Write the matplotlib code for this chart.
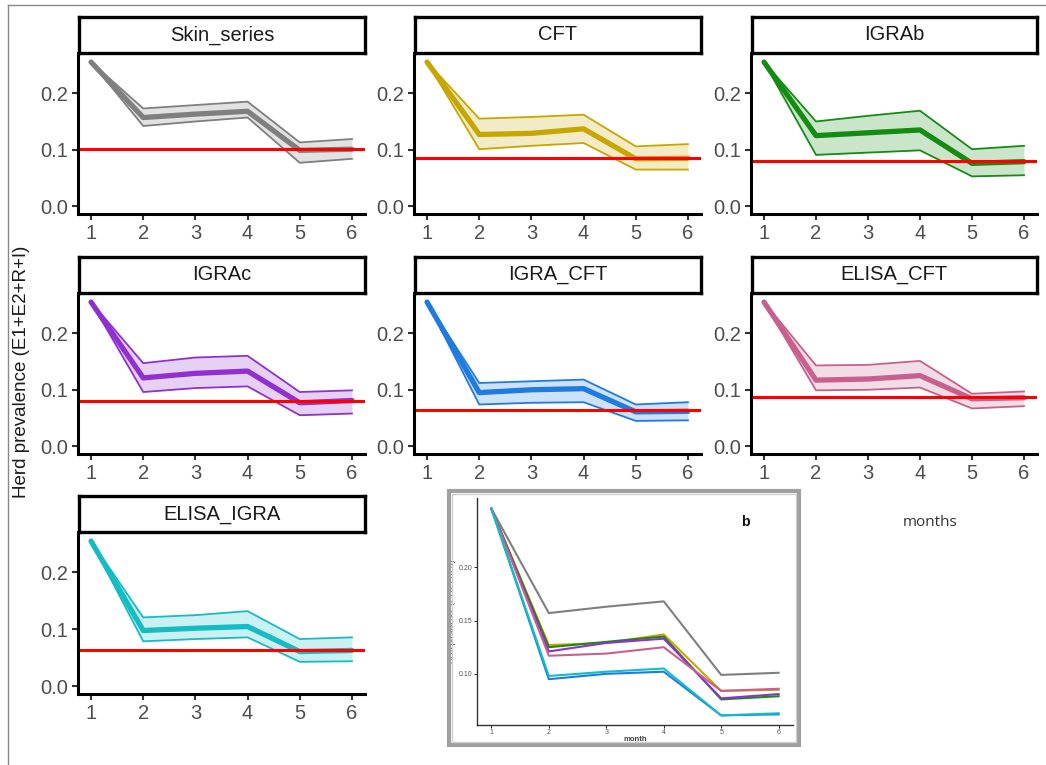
import matplotlib
matplotlib.use("Agg")
import matplotlib.pyplot as plt
from matplotlib.patches import Rectangle

plt.rcParams['font.family'] = ['Liberation Sans', 'DejaVu Sans']

months = [1, 2, 3, 4, 5, 6]

names = ["Skin_series", "CFT", "IGRAb", "IGRAc", "IGRA_CFT", "ELISA_CFT", "ELISA_IGRA"]
colors = ["#7f7f7f", "#c8a600", "#148c14", "#9030d0", "#1e7be0", "#c8608e", "#14bcc4"]

skin_med = [0.255, 0.157, 0.163, 0.168, 0.099, 0.101]
skin_lo = [0.255, 0.142, 0.150, 0.157, 0.077, 0.084]
skin_hi = [0.255, 0.173, 0.179, 0.185, 0.113, 0.119]

cft_med = [0.255, 0.127, 0.129, 0.137, 0.084, 0.085]
cft_lo = [0.255, 0.101, 0.107, 0.112, 0.065, 0.065]
cft_hi = [0.255, 0.155, 0.158, 0.162, 0.106, 0.110]

igrab_med = [0.255, 0.125, 0.130, 0.135, 0.076, 0.079]
igrab_lo = [0.255, 0.091, 0.095, 0.099, 0.053, 0.055]
igrab_hi = [0.255, 0.150, 0.160, 0.169, 0.101, 0.107]

igrac_med = [0.255, 0.121, 0.129, 0.133, 0.077, 0.081]
igrac_lo = [0.255, 0.096, 0.103, 0.106, 0.055, 0.058]
igrac_hi = [0.255, 0.147, 0.157, 0.160, 0.096, 0.099]

igracft_med = [0.255, 0.095, 0.100, 0.102, 0.061, 0.062]
igracft_lo = [0.255, 0.074, 0.077, 0.078, 0.045, 0.046]
igracft_hi = [0.255, 0.112, 0.115, 0.118, 0.074, 0.078]

elisacft_med = [0.255, 0.117, 0.119, 0.125, 0.084, 0.086]
elisacft_lo = [0.255, 0.099, 0.100, 0.104, 0.067, 0.071]
elisacft_hi = [0.255, 0.143, 0.144, 0.151, 0.093, 0.097]

elisaigra_med = [0.255, 0.098, 0.102, 0.105, 0.061, 0.063]
elisaigra_lo = [0.255, 0.079, 0.083, 0.086, 0.043, 0.044]
elisaigra_hi = [0.255, 0.121, 0.125, 0.132, 0.083, 0.086]

thresholds = [0.102, 0.0855, 0.080, 0.080, 0.064, 0.088, 0.064]

medians = [skin_med, cft_med, igrab_med, igrac_med, igracft_med, elisacft_med, elisaigra_med]
lows = [skin_lo, cft_lo, igrab_lo, igrac_lo, igracft_lo, elisacft_lo, elisaigra_lo]
highs = [skin_hi, cft_hi, igrab_hi, igrac_hi, igracft_hi, elisacft_hi, elisaigra_hi]

W, H = 1046, 765
fig = plt.figure(figsize=(W / 100, H / 100), dpi=100)

# page border (left and top only)
fig.add_artist(plt.Line2D([8 / W, 8 / W], [0, 1 - 5 / H], color="#888888", lw=1))
fig.add_artist(plt.Line2D([8 / W, 1], [1 - 5 / H, 1 - 5 / H], color="#888888", lw=1))

col_x = [(78, 365), (414, 701), (751, 1037)]
row_y = [(53, 214), (293, 454), (532, 694)]
strip_h = 36

def px_rect(x0, x1, y0, y1):
    return [x0 / W, 1 - y1 / H, (x1 - x0) / W, (y1 - y0) / H]

for i, name in enumerate(names):
    r, c = divmod(i, 3)
    x0, x1 = col_x[c]
    y0, y1 = row_y[r]
    ax = fig.add_axes(px_rect(x0, x1, y0, y1))
    col = colors[i]
    ax.fill_between(months, lows[i], highs[i], color=col, alpha=0.22, lw=0)
    ax.plot(months, lows[i], color=col, lw=1.3)
    ax.plot(months, highs[i], color=col, lw=1.3)
    ax.plot(months, medians[i], color=col, lw=3.8, solid_capstyle="round")
    ax.axhline(thresholds[i], color="#ff0000", lw=2.2)
    ax.set_xlim(0.75, 6.25)
    ax.set_ylim(-0.0135, 0.271)
    ax.set_xticks(months)
    ax.set_yticks([0.0, 0.1, 0.2])
    ax.set_yticklabels(["0.0", "0.1", "0.2"])
    for s in ["top", "right"]:
        ax.spines[s].set_visible(False)
    for s in ["left", "bottom"]:
        ax.spines[s].set_linewidth(2.2)
        ax.spines[s].set_color("black")
    ax.tick_params(length=4, width=1.5, color="#333333", labelsize=14.5,
                   labelcolor="#4d4d4d", pad=3)

    sax = fig.add_axes(px_rect(x0 + 1, x1, y0 - strip_h, y0))
    sax.set_xticks([])
    sax.set_yticks([])
    for s in sax.spines.values():
        s.set_linewidth(2.4)
        s.set_color("black")
    sax.text(0.5, 0.5, name, ha="center", va="center", fontsize=14.5, color="#1a1a1a",
             transform=sax.transAxes)

fig.text(22 / W, 1 - 372 / H, "Herd prevalence (E1+E2+R+I)", rotation=90,
         ha="center", va="center", fontsize=13.5, color="#1a1a1a")

fig.text(930 / W, 1 - 523 / H, "months", ha="center", va="center", fontsize=11,
         color="#333333", family=["Open Sans", "DejaVu Sans"])

# inset panel b
fig.add_artist(Rectangle((449 / W, 1 - 745 / H), 350 / W, 254 / H,
                         transform=fig.transFigure, fill=False,
                         edgecolor="#a0a0a0", lw=3))
fig.add_artist(Rectangle((452 / W, 1 - 742 / H), 344 / W, 248 / H,
                         transform=fig.transFigure, fill=False,
                         edgecolor="#d0d0d0", lw=1))

iax = fig.add_axes(px_rect(477, 793, 498, 725))
for i in range(len(names)):
    iax.plot(months, medians[i], color=colors[i], lw=1.5)
iax.set_xlim(0.75, 6.25)
iax.set_ylim(0.052, 0.265)
iax.set_xticks(months)
iax.set_yticks([0.10, 0.15, 0.20])
iax.set_yticklabels(["0.10", "0.15", "0.20"])
for s in ["top", "right"]:
    iax.spines[s].set_visible(False)
for s in ["left", "bottom"]:
    iax.spines[s].set_linewidth(1)
    iax.spines[s].set_color("#333333")
iax.tick_params(length=2, width=0.6, labelsize=5, labelcolor="#555555", pad=1)
iax.set_xlabel("month", fontsize=5.5, color="#444444", fontweight="bold", labelpad=0)
iax.set_ylabel("Herd prevalence (E1+E2+R+I)", fontsize=5.5, color="#222222", labelpad=2)
iax.text(745 / W, 1 - 522 / H, "b", transform=fig.transFigure, fontsize=10,
         fontweight="bold", ha="center", va="center", color="#111111")

fig.savefig("out.png", dpi=100, facecolor="white")
